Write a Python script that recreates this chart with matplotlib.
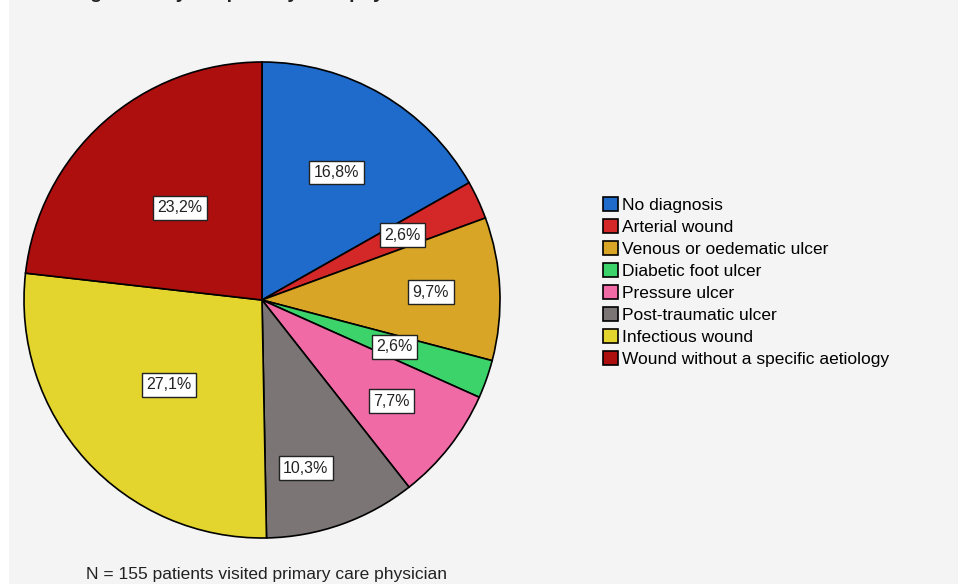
import matplotlib.pyplot as plt
from matplotlib.patches import Rectangle
import numpy as np

# data
categories = ["No diagnosis", "Arterial wound", "Venous or oedematic ulcer",
              "Diabetic foot ulcer", "Pressure ulcer", "Post-traumatic ulcer",
              "Infectious wound", "Wound without a specific aetiology"]
percents = [16.8, 2.6, 9.7, 2.6, 7.7, 10.3, 27.1, 23.2]
pct_labels = ["16,8%", "2,6%", "9,7%", "2,6%", "7,7%", "10,3%", "27,1%", "23,2%"]

colors = ["#1e6bcb", "#d42828", "#d8a526", "#3dd36b",
          "#f06aa6", "#7b7575", "#e3d42e", "#ad0f0f"]
label_r = [0.62, 0.65, 0.71, 0.59, 0.69, 0.73, 0.53, 0.52]  # label distance per slice
label_da = [0, 0, 0, 0, 0, -5, 0, 0]  # small angle nudges (deg)

W, H = 958, 584
plt.rcParams['font.family'] = ['Liberation Sans', 'DejaVu Sans']

fig = plt.figure(figsize=(W / 100, H / 100), dpi=100, facecolor="white")
fig.patches.append(Rectangle((9 / W, 0), 1 - 9 / W, 1, transform=fig.transFigure,
                             facecolor="#f4f4f4", edgecolor="none", zorder=-10))

# cut-off title at the very top (only the bottom of the letters shows)
fig.text(10 / W, 1 + 2 / H, "A", fontsize=14, fontweight="bold", va="baseline", color="#222222")
fig.text(60 / W, 1 + 2 / H, "Diagnoses by the primary care physician", fontsize=14,
         fontweight="bold", va="baseline", color="#222222")

cx, cy, R = 262, 300, 238
box = 242
ax = fig.add_axes([(cx - box) / W, (H - cy - box) / H, 2 * box / W, 2 * box / H])

wedges, _ = ax.pie(percents, colors=colors, startangle=90, counterclock=False,
                   radius=1, wedgeprops=dict(edgecolor="black", linewidth=1.2))
ax.set_xlim(-box / R, box / R)
ax.set_ylim(-box / R, box / R)
ax.axis("off")

for w, lab, r, da in zip(wedges, pct_labels, label_r, label_da):
    ang = np.deg2rad((w.theta1 + w.theta2) / 2 + da)
    ax.text(r * np.cos(ang), r * np.sin(ang), lab, ha="center", va="center",
            fontsize=11.5, color="#222222",
            bbox=dict(boxstyle="square,pad=0.28", facecolor="white",
                      edgecolor="#222222", linewidth=1))

fig.legend(wedges, categories, loc="upper left", bbox_to_anchor=(603 / W, 1 - 197 / H),
           frameon=False, fontsize=12.5, handlelength=0.85, handleheight=0.85,
           handletextpad=0.25, labelspacing=0.35, borderaxespad=0, borderpad=0)

fig.text(267 / W, 1 - 575 / H, "N = 155 patients visited primary care physician",
         fontsize=12.5, ha="center", va="center", color="#222222")

fig.savefig("out.png", dpi=100)
